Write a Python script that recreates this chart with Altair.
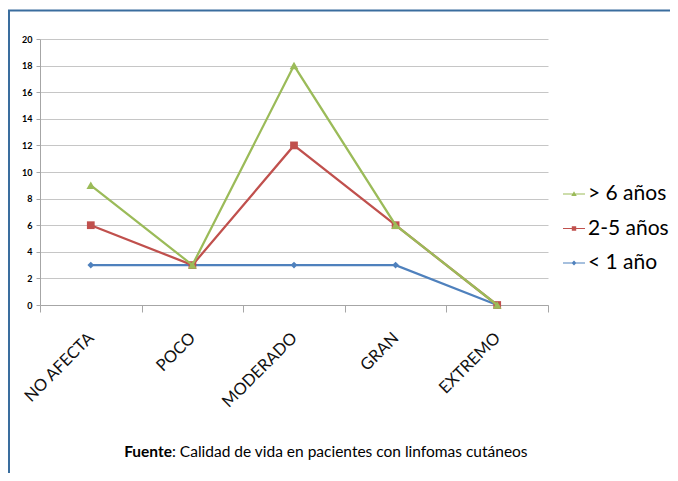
import altair as alt
import pandas as pd

categorias = ["NO AFECTA", "POCO", "MODERADO", "GRAN", "EXTREMO"]
serie_menos1 = [3, 3, 3, 3, 0]
serie_2a5 = [6, 3, 12, 6, 0]
serie_mas6 = [9, 3, 18, 6, 0]
nombres = ["< 1 año", "2-5 años", "> 6 años"]
leyenda_orden = ["> 6 años", "2-5 años", "< 1 año"]
colores = {"< 1 año": "#4F81BD", "2-5 años": "#C0504D", "> 6 años": "#9BBB59"}
formas = {"< 1 año": "diamond", "2-5 años": "square", "> 6 años": "triangle-up"}
tamanos = {"< 1 año": 45, "2-5 años": 60, "> 6 años": 75}
y_ticks = list(range(0, 21, 2))
fuente_bold = "Fuente"
fuente_resto = ": Calidad de vida en pacientes con linfomas cutáneos"

rows = []
for name, vals in zip(nombres, [serie_menos1, serie_2a5, serie_mas6]):
    for c, v in zip(categorias, vals):
        rows.append({"categoria": c, "serie": name, "valor": v})
df = pd.DataFrame(rows)

FONT = "Lato"
GRID = "#C6C6C6"
AXC = "#A6A6A6"

x_enc = alt.X(
    "categoria:N",
    sort=categorias,
    scale=alt.Scale(type="band", domain=categorias, paddingInner=0, paddingOuter=0),
    bandPosition=0.5,
    axis=alt.Axis(
        title=None, labelAngle=-45, labelAlign="right", labelBaseline="middle",
        labelFont=FONT, labelFontSize=16.5, labelColor="#111111", tickBand="extent",
        tickSize=7, tickColor=AXC, domainColor=AXC, grid=False, labelPadding=23,
    ),
)
y_enc = alt.Y(
    "valor:Q",
    scale=alt.Scale(domain=[0, 20], nice=False),
    axis=alt.Axis(
        values=y_ticks, title=None, grid=True, gridColor=GRID, domainColor=AXC,
        tickColor=AXC, tickSize=4, labelFont=FONT, labelFontWeight="bold",
        labelFontSize=9, labelPadding=4, labelColor="black",
    ),
)

frame = alt.Chart(pd.DataFrame({"a": [0]})).mark_rect(
    fill=None, stroke="#3A6D9E", strokeWidth=2, clip=False
).encode(x=alt.value(-31), x2=alt.value(800), y=alt.value(-28.5), y2=alt.value(600))

layers = [frame]
for name in nombres:
    sub = alt.Chart(df).transform_filter(alt.datum.serie == name)
    layers.append(sub.mark_line(color=colores[name], strokeWidth=2.25).encode(x=x_enc, y=y_enc))
    layers.append(
        sub.mark_point(filled=True, opacity=1, shape=formas[name], size=tamanos[name],
                       color=colores[name]).encode(x=x_enc, y=y_enc)
    )

paths = [
    "M-1,-0.05H1V0.05H-1ZM0,-0.24L0.25,0.18L-0.25,0.18Z",
    "M-1,-0.05H1V0.05H-1ZM-0.2,-0.2H0.2V0.2H-0.2Z",
    "M-1,-0.05H1V0.05H-1ZM0,-0.22L0.22,0L0,0.22L-0.22,0Z",
]
leg = dict(
    title=None, orient="none", legendX=523, legendY=144, labelFont=FONT,
    labelFontSize=21, labelColor="black", symbolSize=484, symbolOpacity=1,
    symbolStrokeWidth=0, rowPadding=13.5, labelOffset=3,
)
legend_layer = alt.Chart(df).mark_point(filled=True, opacity=0).encode(
    x=x_enc, y=y_enc,
    color=alt.Color("serie:N", scale=alt.Scale(domain=leyenda_orden,
                    range=[colores[s] for s in leyenda_orden]), legend=alt.Legend(**leg)),
    shape=alt.Shape("serie:N", scale=alt.Scale(domain=leyenda_orden, range=paths),
                    legend=alt.Legend(**leg)),
)
layers.append(legend_layer)

cap = pd.DataFrame({"a": [fuente_bold], "b": [fuente_resto]})
cap1 = alt.Chart(cap).mark_text(align="right", baseline="alphabetic", font=FONT,
                                fontSize=15.5, fontWeight="bold", color="black").encode(
    text="a:N", x=alt.value(132), y=alt.value(418))
cap2 = alt.Chart(cap).mark_text(align="left", baseline="alphabetic", font=FONT,
                                fontSize=15.5, color="black").encode(
    text="b:N", x=alt.value(132), y=alt.value(418))
layers += [cap1, cap2]

chart = alt.layer(*layers).properties(
    width=508, height=266,
    autosize=alt.AutoSizeParams(type="none"),
    padding={"left": 32, "top": 31, "right": 122, "bottom": 168},
    background="white",
).configure_view(stroke=None)

chart.save("out.html", embed_options={"renderer": "svg", "actions": False})
